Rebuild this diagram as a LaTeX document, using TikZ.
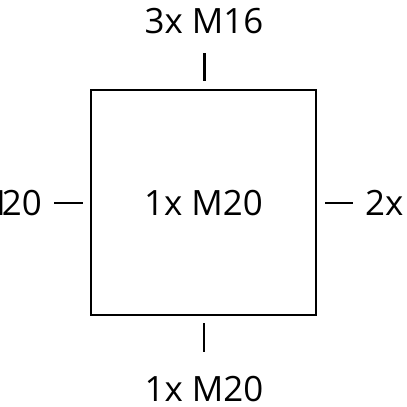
\documentclass[tikz,border=0pt]{standalone}
\usepackage{fontspec}
\setmainfont{Open Sans}
\begin{document}
\begin{tikzpicture}[x=1bp,y=-1bp,
  lbl/.style={font=\fontsize{35}{40}\selectfont, inner sep=0pt, anchor=base},
  tick/.style={line width=2.2bp},
  box/.style={draw, line width=2bp}]
\useasboundingbox (0,0) rectangle (407,407);
\begin{scope}
\clip (0,0) rectangle (407,407);
\node[box, minimum width=225bp, minimum height=225bp, inner sep=0pt] (sq) at (203.5,202) {};
\node[lbl] (c) at (203.5,215) {1x M20};
\node[lbl] (t) at (204,33) {3x M16};
\node[lbl] (b) at (204,401) {1x M20};
\node[lbl, anchor=base east] (l) at (42,215) {M\kern-4bp 20};
\node[lbl, anchor=base west] (r) at (365,215) {2x};
\coordinate (t1) at (204.5,53);
\coordinate (t2) at (204.5,81);
\coordinate (b1) at (204,323);
\coordinate (b2) at (204,352);
\coordinate (l1) at (54,203);
\coordinate (l2) at (83,203);
\coordinate (r1) at (325,203);
\coordinate (r2) at (353,203);
\draw[tick] (t1) -- (t2);
\draw[tick] (b1) -- (b2);
\draw[tick] (l1) -- (l2);
\draw[tick] (r1) -- (r2);
\end{scope}
\end{tikzpicture}
\end{document}
